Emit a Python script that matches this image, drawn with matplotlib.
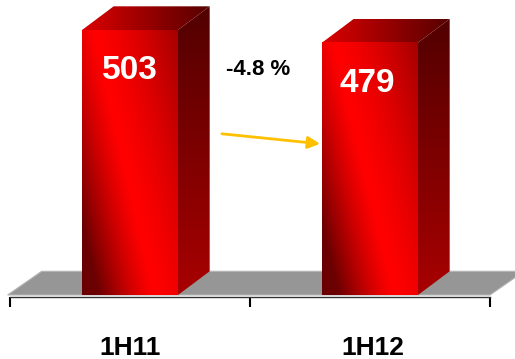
import matplotlib
matplotlib.use("Agg")
import matplotlib.pyplot as plt
import numpy as np
from matplotlib.patches import Polygon

# data
categories = ["1H11", "1H12"]
values = [503, 479]
change_label = "-4.8 %"

plt.rcParams['font.family'] = ['Liberation Sans', 'DejaVu Sans']

fig = plt.figure(figsize=(5.15, 3.59), dpi=100)
ax = fig.add_axes([0, 0, 1, 1])

half_w = 0.2          # half bar width (category units)
dx, dy = 0.132, 45.0  # 3d depth offset (x units, value units)

# gray floor
floor = Polygon([(-0.51, 0), (1.5, 0), (1.5 + dx + 0.01, dy), (-0.51 + dx + 0.01, dy)],
                closed=True, facecolor='#969696', edgecolor='#b4b4b4', lw=0.8, zorder=1)
ax.add_patch(floor)


def front_rgb(nx=60, ny=200):
    xf = np.linspace(0, 1, nx)[None, :]
    t = np.linspace(0, 1, ny)[:, None]
    c = 0.12 + 0.65 * t
    d = xf - c
    b = np.where(d < 0, 1 - np.clip(-d / 0.6, 0, 1) ** 1.3,
                 1 - np.clip(d / 1.25, 0, 1) ** 1.4)
    r = 0.42 + 0.58 * b
    return np.dstack([r, np.zeros_like(r), np.zeros_like(r)])


def side_rgb(nx=20, ny=200):
    t = np.linspace(0, 1, ny)[:, None] * np.ones((1, nx))
    r = 0.32 + 0.34 * t
    return np.dstack([r, np.zeros_like(r), np.zeros_like(r)])


def top_rgb(nx=60, ny=20):
    xf = np.linspace(0, 1, nx)[None, :] * np.ones((ny, 1))
    r = 0.86 - 0.52 * xf
    return np.dstack([r, np.zeros_like(r), np.zeros_like(r)])


for i, v in enumerate(values):
    x0, x1 = i - half_w, i + half_w
    # front face
    ax.imshow(front_rgb(), extent=(x0, x1, 0, v), origin='upper',
              aspect='auto', interpolation='bilinear', zorder=3)
    # side face
    side = Polygon([(x1, 0), (x1 + dx, dy), (x1 + dx, v + dy), (x1, v)],
                   closed=True, facecolor='none', edgecolor='none')
    ax.add_patch(side)
    im = ax.imshow(side_rgb(), extent=(x1, x1 + dx, 0, v + dy), origin='upper',
                   aspect='auto', interpolation='bilinear', zorder=2)
    im.set_clip_path(side)
    # top face
    top = Polygon([(x0, v), (x1, v), (x1 + dx, v + dy), (x0 + dx, v + dy)],
                  closed=True, facecolor='none', edgecolor='none')
    ax.add_patch(top)
    im = ax.imshow(top_rgb(), extent=(x0, x1 + dx, v, v + dy), origin='upper',
                   aspect='auto', interpolation='bilinear', zorder=2)
    im.set_clip_path(top)
    # value label
    ax.text(i - 0.005 * i * 2, v - 93, str(v), color='white', fontsize=24,
            fontweight='bold', ha='center', va='baseline', zorder=5)
    # category label
    ax.text(i + 0.01 * i, -113, categories[i], color='black', fontsize=19,
            fontweight='bold', ha='center', va='baseline', zorder=5)

# change annotation
ax.text(0.533, 418, change_label, fontsize=16, fontweight='bold',
        ha='center', va='baseline', zorder=5)
ax.annotate('', xy=(0.792, 287), xytext=(0.383, 306),
            arrowprops=dict(arrowstyle='-|>', color='#FFC000', lw=2,
                            mutation_scale=18, shrinkA=0, shrinkB=0), zorder=5)

# axis line with ticks
ax.set_xlim(-130 / 240, 385 / 240)
ax.set_ylim(-64 / 0.5268, 295 / 0.5268)
for s in ['top', 'right', 'left']:
    ax.spines[s].set_visible(False)
ax.spines['bottom'].set_position(('data', -4))
ax.spines['bottom'].set_bounds(-0.5, 1.5)
ax.spines['bottom'].set_color('#333333')
ax.spines['bottom'].set_linewidth(1.0)
ax.set_xticks([-0.5, 0.5, 1.5])
ax.set_xticklabels([])
ax.set_yticks([])
ax.tick_params(axis='x', direction='out', length=7, width=1.5, color='black')
ax.patch.set_visible(False)

fig.savefig('out.png', dpi=100)
